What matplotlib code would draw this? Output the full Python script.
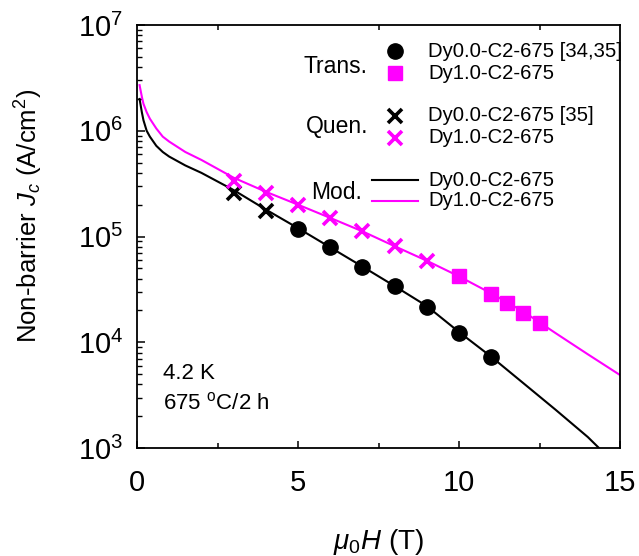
import numpy as np
import matplotlib
matplotlib.use("Agg")
import matplotlib.pyplot as plt
from matplotlib.ticker import FixedLocator, LogLocator, NullFormatter

plt.rcParams['font.family'] = ['Liberation Sans', 'DejaVu Sans']
plt.rcParams['mathtext.fontset'] = 'custom'
plt.rcParams['mathtext.rm'] = 'Liberation Sans'
plt.rcParams['mathtext.it'] = 'Liberation Sans:italic'

MAGENTA = '#ff00ff'

# transport data (Dy0.0 / Dy1.0)
trans_dy0_x = [5, 6, 7, 8, 9, 10, 11]
trans_dy0_y = [1.17e5, 7.9e4, 5.2e4, 3.43e4, 2.17e4, 1.23e4, 7.3e3]
trans_dy1_x = [10, 11, 11.5, 12, 12.5]
trans_dy1_y = [4.24e4, 2.86e4, 2.37e4, 1.88e4, 1.53e4]

# quench data
quen_dy0_x = [3, 4]
quen_dy0_y = [2.6e5, 1.75e5]
quen_dy1_x = [3, 4, 5, 6, 7, 8, 9]
quen_dy1_y = [3.37e5, 2.56e5, 1.99e5, 1.49e5, 1.13e5, 8.1e4, 5.9e4]

# model curves
mod_dy0_x = [0.08, 0.15, 0.2, 0.3, 0.4, 0.6, 0.8, 1.0, 1.5, 2.0, 3.0, 4.0, 5.0,
             6, 7, 8, 9, 10, 11, 12, 13, 14, 14.5]
mod_dy0_y = [2.0e6, 1.5e6, 1.26e6, 1.0e6, 8.8e5, 7.2e5, 6.3e5, 5.7e5, 4.7e5, 4.0e5,
             2.75e5, 1.8e5, 1.2e5, 7.9e4, 5.2e4, 3.4e4, 2.2e4, 1.25e4, 7.3e3,
             4.1e3, 2.3e3, 1.27e3, 9.0e2]
mod_dy1_x = [0.08, 0.15, 0.2, 0.3, 0.4, 0.6, 0.8, 1.0, 1.5, 2.0, 3.0, 4.0, 5.0,
             6, 7, 8, 9, 10, 11, 12, 13, 14, 15]
mod_dy1_y = [2.7e6, 2.1e6, 1.8e6, 1.5e6, 1.3e6, 1.05e6, 8.8e5, 7.9e5, 6.3e5, 5.3e5,
             3.6e5, 2.65e5, 2.0e5, 1.5e5, 1.12e5, 8.1e4, 5.9e4, 4.2e4, 2.9e4,
             1.95e4, 1.22e4, 7.7e3, 4.9e3]

fig = plt.figure(figsize=(6.39, 5.56), dpi=100)
ax = fig.add_axes([0.2144, 0.1942, 0.7559, 0.7608])

ax.plot(mod_dy0_x, mod_dy0_y, color='black', lw=1.5)
ax.plot(mod_dy1_x, mod_dy1_y, color=MAGENTA, lw=1.5)
ax.plot(quen_dy0_x, quen_dy0_y, 'x', color='black', ms=10, mew=2.6)
ax.plot(quen_dy1_x, quen_dy1_y, 'x', color=MAGENTA, ms=10, mew=2.6)
ax.plot(trans_dy0_x, trans_dy0_y, 'o', color='black', ms=11)
ax.plot(trans_dy1_x, trans_dy1_y, 's', color=MAGENTA, ms=10)

ax.set_yscale('log')
ax.set_xlim(0, 15)
ax.set_ylim(1e3, 1e7)

ax.xaxis.set_major_locator(FixedLocator([0, 5, 10, 15]))
ax.xaxis.set_minor_locator(FixedLocator([2.5, 7.5, 12.5]))
ax.yaxis.set_minor_locator(LogLocator(base=10, subs=np.arange(2, 10), numticks=20))
ax.yaxis.set_minor_formatter(NullFormatter())
ax.tick_params(axis='x', which='major', direction='in', length=5, width=1.1,
               top=False, labelsize=21, pad=15)
ax.tick_params(axis='x', which='minor', direction='in', length=3.5, width=1.1,
               top=True, bottom=True)
ax.tick_params(axis='y', which='major', direction='in', length=6, width=1.1,
               right=False, labelsize=21, pad=10)
ax.tick_params(axis='y', which='minor', direction='in', length=3.5, width=1.0,
               right=False)
for s in ax.spines.values():
    s.set_linewidth(1.3)

ax.set_xlabel(r'$\mu_0H$ (T)', fontsize=20, labelpad=22)
ax.set_ylabel(r'Non-barrier $J_c$ (A/cm$^2$)', fontsize=18.5)
ax.yaxis.set_label_coords(-0.19, 0.55)

# hand-made legend
tf = ax.transAxes
fs = 14.6
gfs = 16.5
ax.text(0.478, 0.903, 'Trans.', transform=tf, fontsize=gfs, ha='right', va='center')
ax.plot([0.534], [0.9385], 'o', color='black', ms=11, transform=tf, clip_on=False)
ax.plot([0.534], [0.8865], 's', color=MAGENTA, ms=10, transform=tf, clip_on=False)
ax.text(0.6025, 0.9385, 'Dy0.0-C2-675 [34,35]', transform=tf, fontsize=fs, va='center')
ax.text(0.6025, 0.8865, 'Dy1.0-C2-675', transform=tf, fontsize=fs, va='center')

ax.text(0.478, 0.759, 'Quen.', transform=tf, fontsize=gfs, ha='right', va='center')
ax.plot([0.534], [0.785], 'x', color='black', ms=10, mew=2.6, transform=tf, clip_on=False)
ax.plot([0.534], [0.733], 'x', color=MAGENTA, ms=10, mew=2.6, transform=tf, clip_on=False)
ax.text(0.6025, 0.785, 'Dy0.0-C2-675 [35]', transform=tf, fontsize=fs, va='center')
ax.text(0.6025, 0.733, 'Dy1.0-C2-675', transform=tf, fontsize=fs, va='center')

ax.text(0.466, 0.605, 'Mod.', transform=tf, fontsize=gfs, ha='right', va='center')
ax.plot([0.4865, 0.582], [0.6336, 0.6336], color='black', lw=1.5, transform=tf)
ax.plot([0.4865, 0.582], [0.584, 0.584], color=MAGENTA, lw=1.5, transform=tf)
ax.text(0.6025, 0.6336, 'Dy0.0-C2-675', transform=tf, fontsize=fs, va='center')
ax.text(0.6025, 0.584, 'Dy1.0-C2-675', transform=tf, fontsize=fs, va='center')

ax.text(0.054, 0.177, '4.2 K', transform=tf, fontsize=16, va='center')
ax.text(0.054, 0.106, r'675 $^{\mathrm{o}}$C/2 h', transform=tf, fontsize=16, va='center')

fig.savefig('out.png', dpi=100)
